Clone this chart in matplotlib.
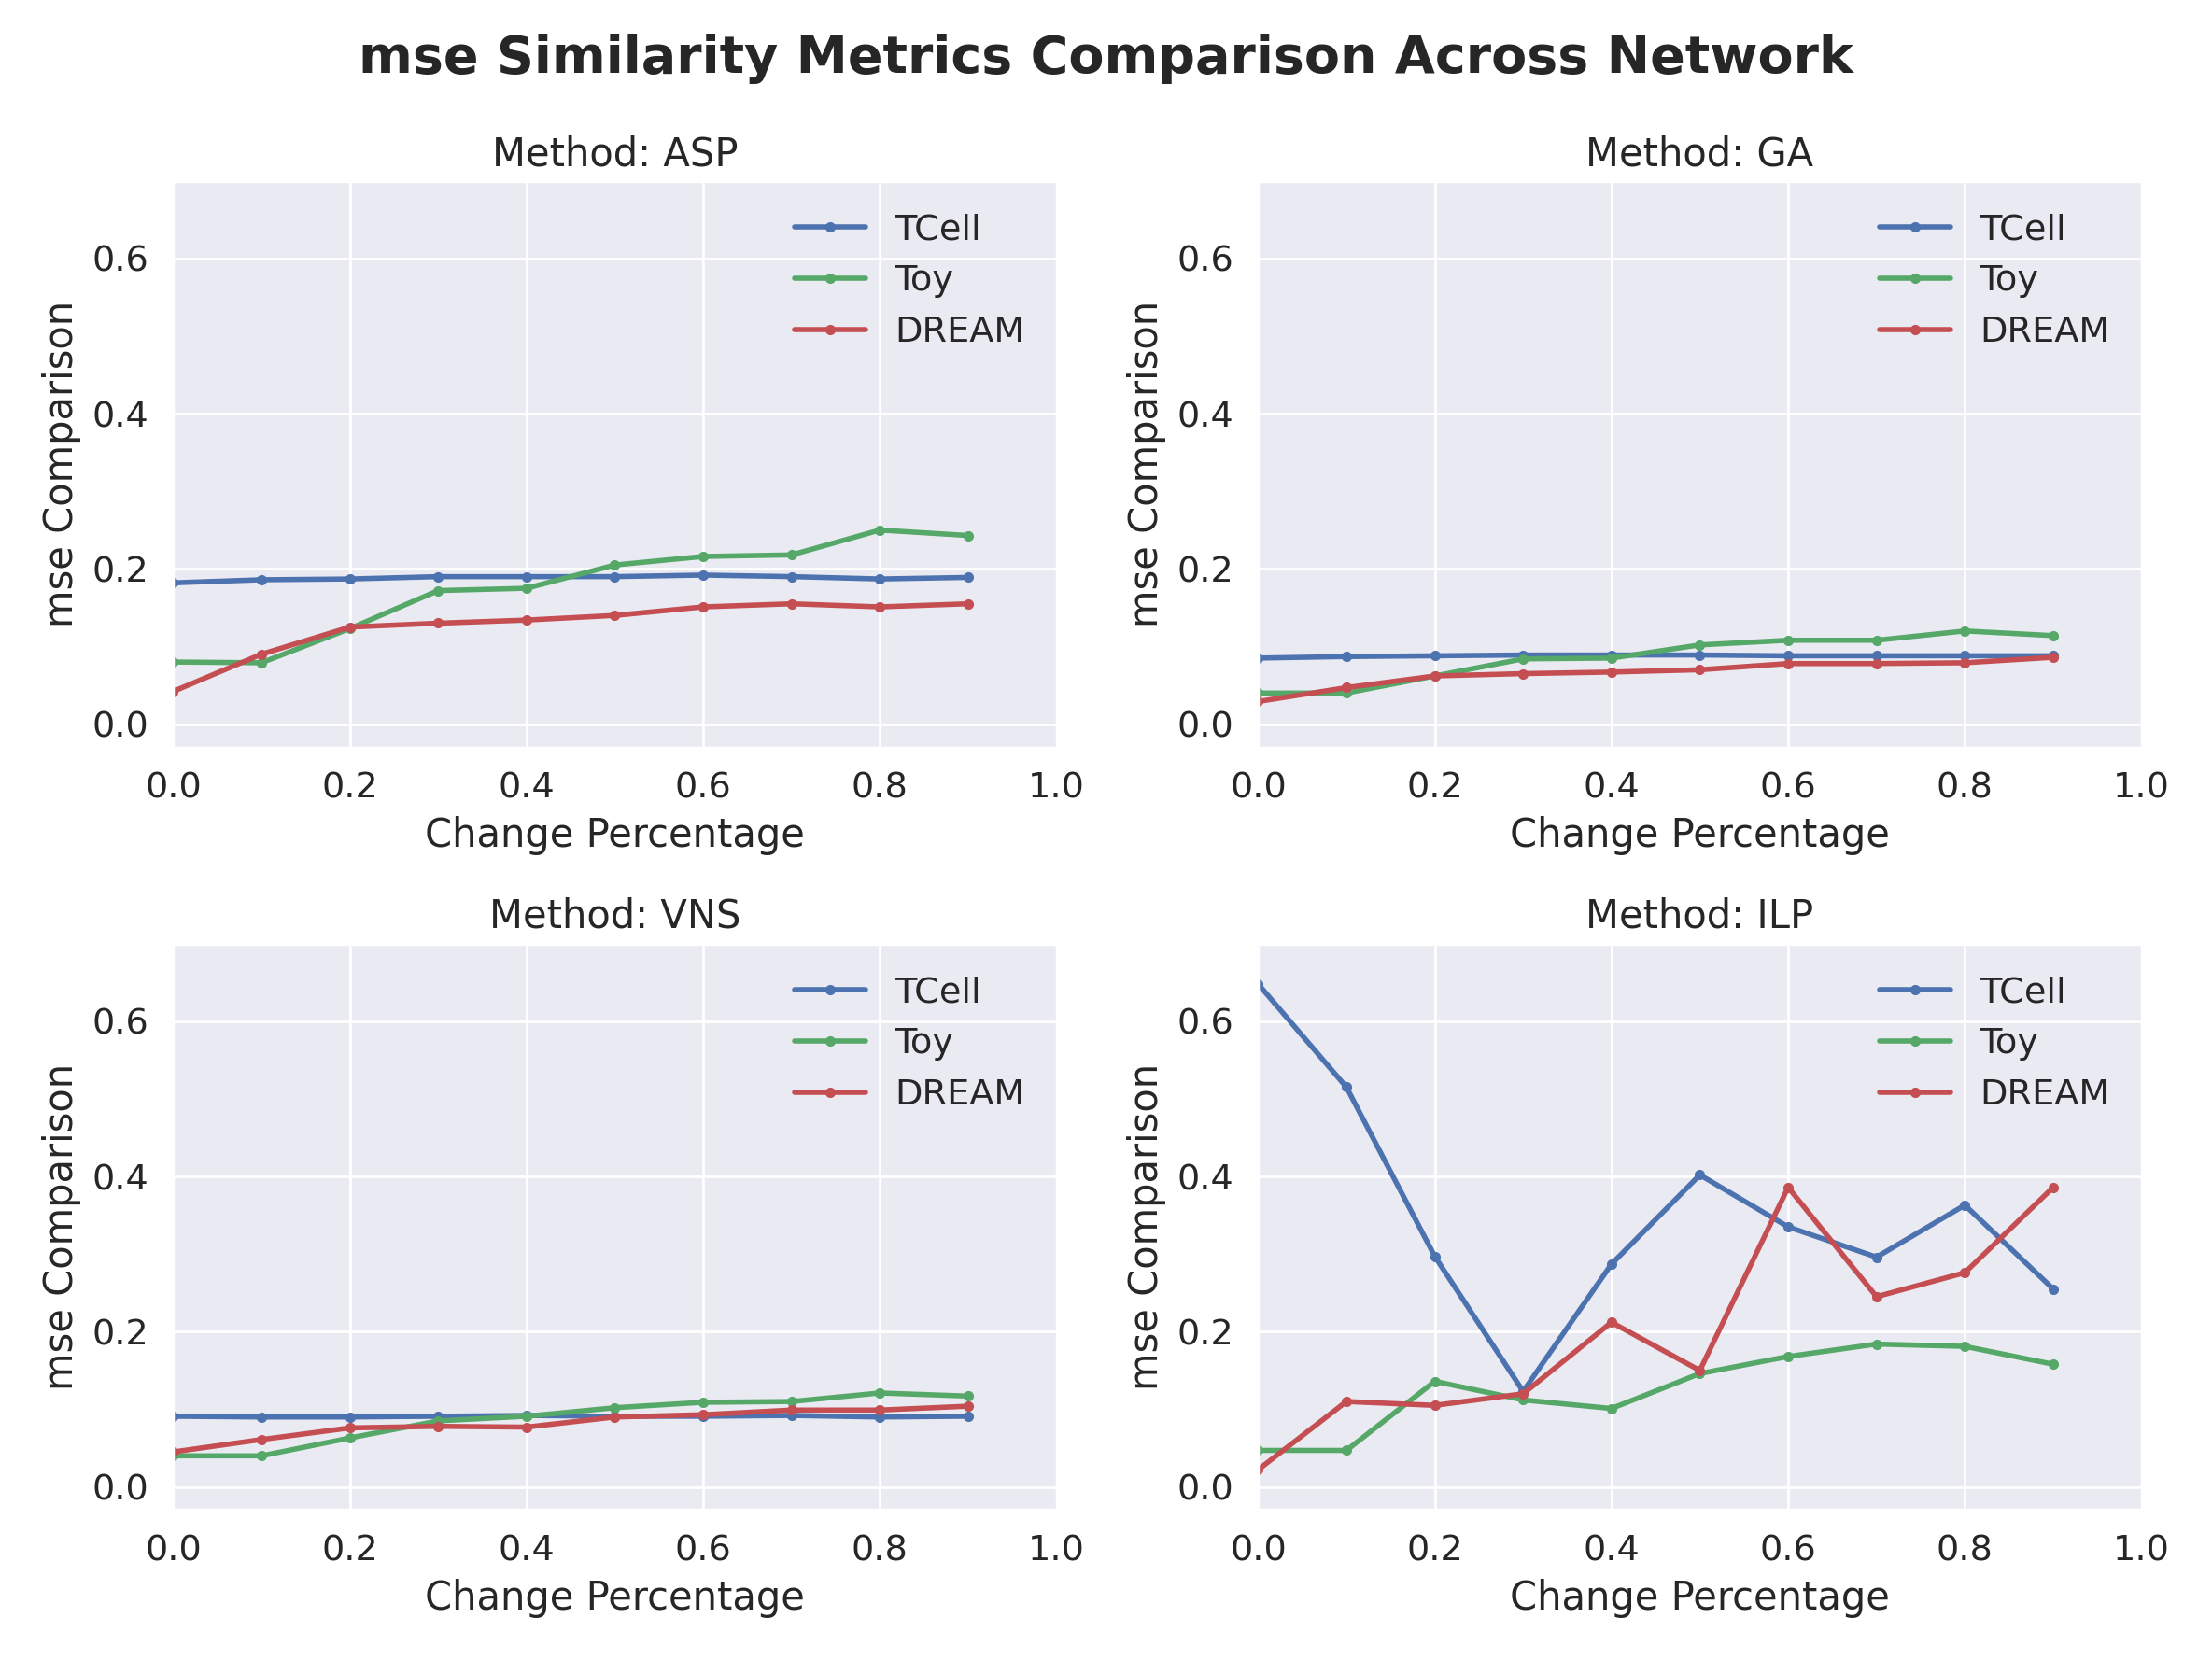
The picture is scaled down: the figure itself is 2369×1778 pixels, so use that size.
import matplotlib
matplotlib.use("Agg")
import matplotlib.pyplot as plt
import seaborn as sns
import numpy as np

sns.set_theme(style="darkgrid", font_scale=1.25)

x = [0.0, 0.1, 0.2, 0.3, 0.4, 0.5, 0.6, 0.7, 0.8, 0.9]
methods = ["ASP", "GA", "VNS", "ILP"]
networks = ["TCell", "Toy", "DREAM"]

asp_tcell = [0.182, 0.186, 0.187, 0.190, 0.190, 0.190, 0.192, 0.190, 0.187, 0.189]
asp_toy = [0.080, 0.079, 0.123, 0.172, 0.175, 0.205, 0.216, 0.218, 0.250, 0.243]
asp_dream = [0.042, 0.090, 0.125, 0.130, 0.134, 0.140, 0.151, 0.155, 0.151, 0.155]
ga_tcell = [0.085, 0.087, 0.088, 0.089, 0.089, 0.089, 0.088, 0.088, 0.088, 0.088]
ga_toy = [0.040, 0.040, 0.062, 0.084, 0.085, 0.102, 0.108, 0.108, 0.120, 0.114]
ga_dream = [0.029, 0.047, 0.062, 0.065, 0.067, 0.070, 0.078, 0.078, 0.079, 0.086]
vns_tcell = [0.091, 0.090, 0.090, 0.091, 0.092, 0.091, 0.091, 0.092, 0.090, 0.091]
vns_toy = [0.040, 0.040, 0.063, 0.085, 0.091, 0.102, 0.109, 0.110, 0.121, 0.117]
vns_dream = [0.045, 0.061, 0.076, 0.078, 0.077, 0.090, 0.093, 0.099, 0.099, 0.104]
ilp_tcell = [0.648, 0.515, 0.297, 0.123, 0.287, 0.402, 0.335, 0.296, 0.363, 0.255]
ilp_toy = [0.047, 0.047, 0.136, 0.112, 0.101, 0.146, 0.168, 0.184, 0.181, 0.158]
ilp_dream = [0.022, 0.110, 0.105, 0.120, 0.212, 0.150, 0.386, 0.245, 0.276, 0.386]

data = {
    "ASP": [asp_tcell, asp_toy, asp_dream],
    "GA": [ga_tcell, ga_toy, ga_dream],
    "VNS": [vns_tcell, vns_toy, vns_dream],
    "ILP": [ilp_tcell, ilp_toy, ilp_dream],
}
colors = ["#4c72b0", "#55a868", "#c44e52"]

fig, axes = plt.subplots(2, 2, figsize=(11.845, 8.89), dpi=200)
for ax, m in zip(axes.flat, methods):
    for series, name, c in zip(data[m], networks, colors):
        ax.plot(x, series, marker="o", markersize=3, linewidth=2, color=c, label=name)
    ax.set_title(f"Method: {m}")
    ax.set_xlabel("Change Percentage")
    ax.set_ylabel("mse Comparison")
    ax.set_xlim(0, 1)
    ax.set_ylim(-0.03, 0.7)
    ax.set_yticks([0.0, 0.2, 0.4, 0.6])
    ax.legend(loc="upper right", frameon=False)
fig.suptitle("mse Similarity Metrics Comparison Across Network", fontsize=20, fontweight="bold")
fig.tight_layout()
fig.savefig("out.png", dpi=200)
